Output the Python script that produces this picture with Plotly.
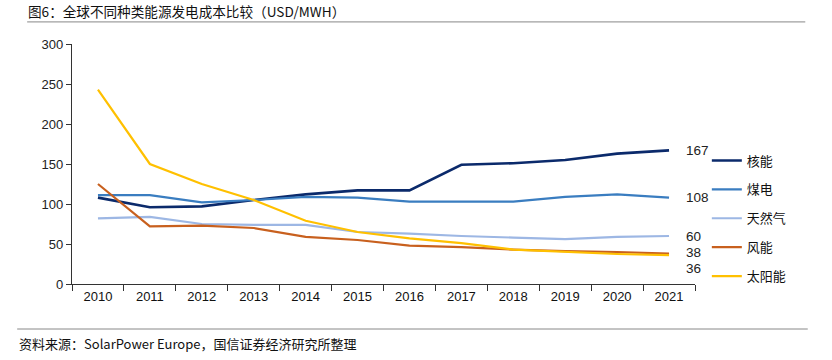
import plotly.graph_objects as go

years = ["2010", "2011", "2012", "2013", "2014", "2015", "2016", "2017", "2018", "2019", "2020", "2021"]
nuclear = [108, 96, 97, 105, 112, 117, 117, 149, 151, 155, 163, 167]
coal = [111, 111, 102, 105, 109, 108, 103, 103, 103, 109, 112, 108]
gas = [82, 84, 75, 74, 74, 65, 63, 60, 58, 56, 59, 60]
wind = [125, 72, 73, 70, 59, 55, 48, 46, 43, 41, 40, 38]
solar = [243, 150, 125, 105, 79, 65, 57, 51, 43, 40, 37.5, 36]

names = ["核能", "煤电", "天然气", "风能", "太阳能"]
series = [nuclear, coal, gas, wind, solar]
colors = ["#0B2A6B", "#3A7DC0", "#9DB7E4", "#C8601E", "#FFC000"]
end_labels = ["167", "108", "60", "38", "36"]
label_shift = [0, 0, 0, 1, -13]

title = "图6：全球不同种类能源发电成本比较（USD/MWH）"
source = "资料来源：SolarPower Europe，国信证券经济研究所整理"

cjk = "Noto Sans CJK SC"
fig = go.Figure()
last = len(years) - 1
for i, (n, s, c) in enumerate(zip(names, series, colors)):
    fig.add_trace(go.Scatter(x=years, y=s, name=n, mode="lines",
                             line=dict(color=c, width=2.6 if i == 0 else 2.2),
                             legendgroup=str(i)))
    fig.add_annotation(x=last, y=s[-1], text=end_labels[i], xref="x", yref="y",
                       xanchor="left", yanchor="middle", xshift=16, yshift=label_shift[i],
                       showarrow=False, borderpad=0,
                       font=dict(family="Liberation Sans", size=13.5, color="#222"))

# paper coords are relative to the plot area (623 x 240 px)
fig.add_annotation(x=-0.072, y=1.1375, xref="paper", yref="paper", xanchor="left", yanchor="middle",
                   text=title, showarrow=False, borderpad=0,
                   font=dict(family=cjk, size=13.6, color="#111"))
fig.add_annotation(x=-0.088, y=-0.246, xref="paper", yref="paper", xanchor="left", yanchor="middle",
                   text=source, showarrow=False, font=dict(family=cjk, size=13, color="#111"))
fig.add_shape(type="line", xref="paper", yref="paper", x0=-0.072, x1=1.177, y0=1.092, y1=1.092,
              line=dict(color="#888", width=1))
fig.add_shape(type="line", xref="paper", yref="paper", x0=-0.088, x1=1.181, y0=-0.1875, y1=-0.1875,
              line=dict(color="#888", width=1))

fig.update_layout(
    width=832, height=360,
    margin=dict(l=72, r=137, t=44, b=76),
    plot_bgcolor="white", paper_bgcolor="white",
    showlegend=True,
    legend=dict(x=1.019, y=0.577, xanchor="left", yanchor="top", tracegroupgap=9,
                font=dict(family=cjk, size=13, color="#111"), bgcolor="rgba(0,0,0,0)",
                itemwidth=30),
    xaxis=dict(type="category", range=[-0.5, 11.5], showline=True, linecolor="#333", linewidth=1.3,
               ticks="outside", tickson="boundaries", ticklen=6, tickcolor="#333",
               showgrid=False, tickfont=dict(family="Liberation Sans", size=13, color="#111")),
    yaxis=dict(range=[0, 300], dtick=50, showline=True, linecolor="#333", linewidth=1.3,
               ticks="outside", ticklen=5, tickcolor="#333", showgrid=False, zeroline=False,
               tickfont=dict(family="Liberation Sans", size=13, color="#222")),
)
fig.write_html("out.html", config={"displayModeBar": False},
               post_script="document.body.style.margin='0';")
